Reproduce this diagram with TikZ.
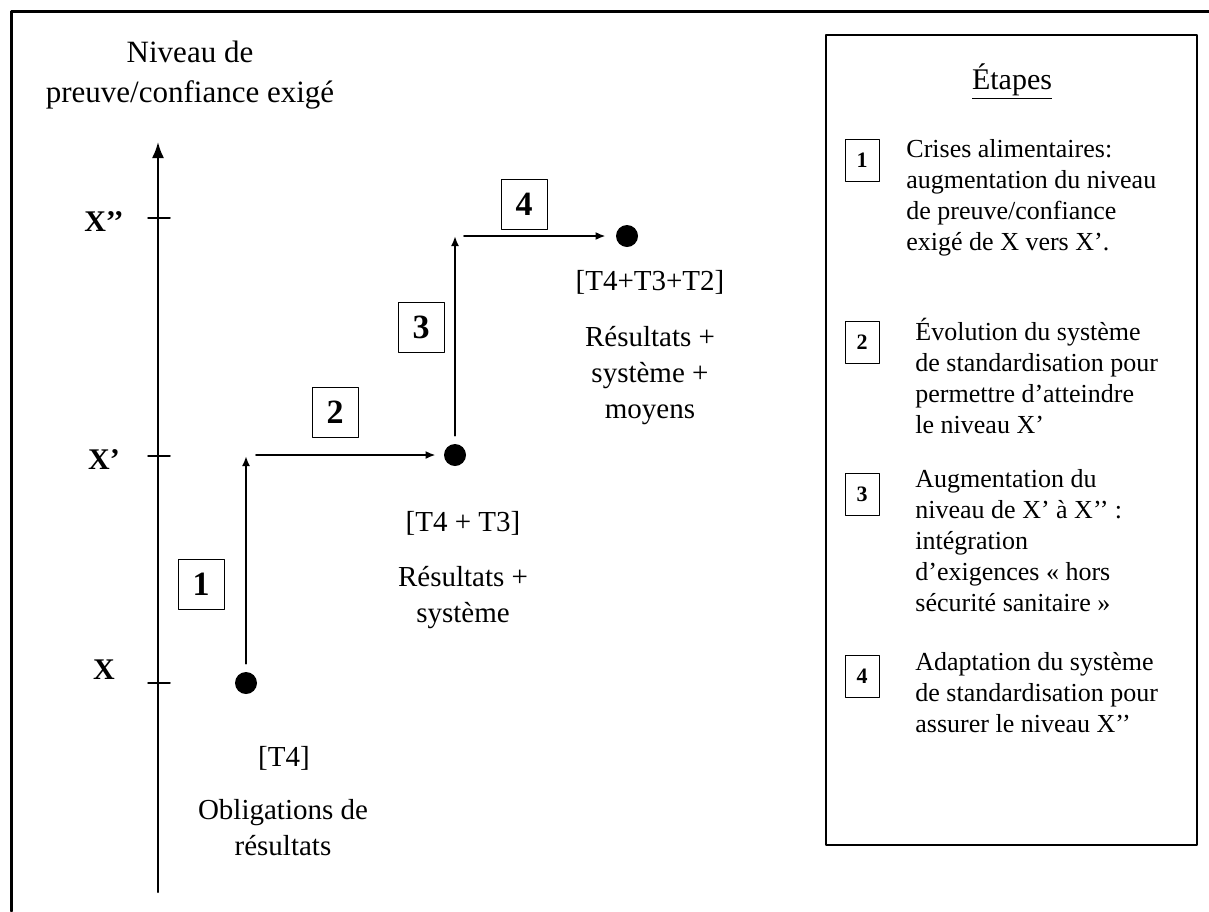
\documentclass[tikz,border=0pt]{standalone}
\usepackage{fontspec}
\setmainfont{Liberation Serif}
\usetikzlibrary{arrows.meta}
\begin{document}
\begin{tikzpicture}[x=0.5pt, y=-0.5pt, line cap=round, line join=round,
  ptlabel/.style={align=center, inner sep=0pt, font=\fontsize{14.5}{18}\selectfont},
  stepnum/.style={draw, line width=0.5pt, minimum width=23pt, minimum height=25pt, inner sep=0pt, font=\bfseries\fontsize{17}{17}\selectfont},
  legnum/.style={draw, line width=0.5pt, minimum width=17pt, minimum height=21pt, inner sep=0pt, font=\bfseries\fontsize{11}{11}\selectfont},
  legtext/.style={align=left, anchor=north west, inner sep=0pt, font=\fontsize{13}{15.5}\selectfont},
  level/.style={inner sep=0pt, font=\bfseries\fontsize{15}{15}\selectfont},
  dot/.style={circle, fill, inner sep=0pt, minimum size=11pt},
  stepline/.style={line width=1pt, -{Latex[length=5pt,width=4pt]}}]
\useasboundingbox (0,0) rectangle (1209,911);

% === Outer frame (cut at right and bottom) ===
\draw[line width=1.5pt] (11,911) -- (11,11) -- (1209,11);

% === Vertical axis ===
\node[align=center, anchor=north, inner sep=0pt, font=\fontsize{15.5}{20}\selectfont]
  (title) at (190,41) {Niveau de\\preuve/confiance exigé};
\coordinate (ybot) at (158,892);
\coordinate (ytop) at (158,142);
\draw[line width=1pt, -{Latex[length=8pt,width=6pt]}] (ybot) -- (ytop);

\foreach \y/\ly/\name/\txt in {683/670/lx0/X, 456/460/lx1/X’, 218/222/lx2/X’’}{
  \draw[line width=0.75pt] (148,\y) -- (170,\y);
  \node[level] (\name) at (104,\ly) {\txt};
}

% === Levels reached ===
\node[dot] (p0) at (246,683) {};
\node[dot] (p1) at (455,455) {};
\node[dot] (p2) at (627,236) {};

\coordinate (c1) at (246,456);
\coordinate (c1b) at (256,455);
\coordinate (c2) at (455,236);
\coordinate (c2b) at (464,236);

\draw[stepline, shorten <=4pt] (p0) -- (c1);
\draw[stepline, shorten >=4pt] (c1b) -- (p1);
\draw[stepline, shorten <=4pt] (p1) -- (c2);
\draw[stepline, shorten >=5pt] (c2b) -- (p2);

\node[stepnum] (s1) at (201,584) {1};
\node[stepnum] (s2) at (335,412) {2};
\node[stepnum] (s3) at (421,327) {3};
\node[stepnum] (s4) at (524,204) {4};

\node[ptlabel] (t0) at (284,758) {[T4]};
\node[ptlabel, anchor=north] (r0) at (283,799) {Obligations de\\résultats};
\node[ptlabel] (t1) at (463,523) {[T4 + T3]};
\node[ptlabel, anchor=north] (r1) at (463,566) {Résultats +\\système};
\node[ptlabel] (t2) at (650,282) {[T4+T3+T2]};
\node[ptlabel, anchor=north] (r2) at (650,326) {Résultats +\\système +\\moyens};

% === Legend ===
\draw[line width=0.8pt] (826,35) rectangle (1197,845);
\node[inner sep=0pt, font=\fontsize{15}{15}\selectfont] (etapes) at (1012,82) {\underline{Étapes}};

\node[legnum] (e1) at (862,160) {1};
\node[legtext] (d1) at (906,139) {Crises alimentaires:\\augmentation du niveau\\de preuve/confiance\\exigé de X vers X’.};
\node[legnum] (e2) at (862,342) {2};
\node[legtext] (d2) at (915,318) {Évolution du système\\de standardisation pour\\permettre d’atteindre\\le niveau X’};
\node[legnum] (e3) at (862,494) {3};
\node[legtext] (d3) at (915,469) {Augmentation du\\niveau de X’ à X’’ :\\intégration\\d’exigences « hors\\sécurité sanitaire »};
\node[legnum] (e4) at (862,676) {4};
\node[legtext] (d4) at (915,652) {Adaptation du système\\de standardisation pour\\assurer le niveau X’’};
\end{tikzpicture}
\end{document}
